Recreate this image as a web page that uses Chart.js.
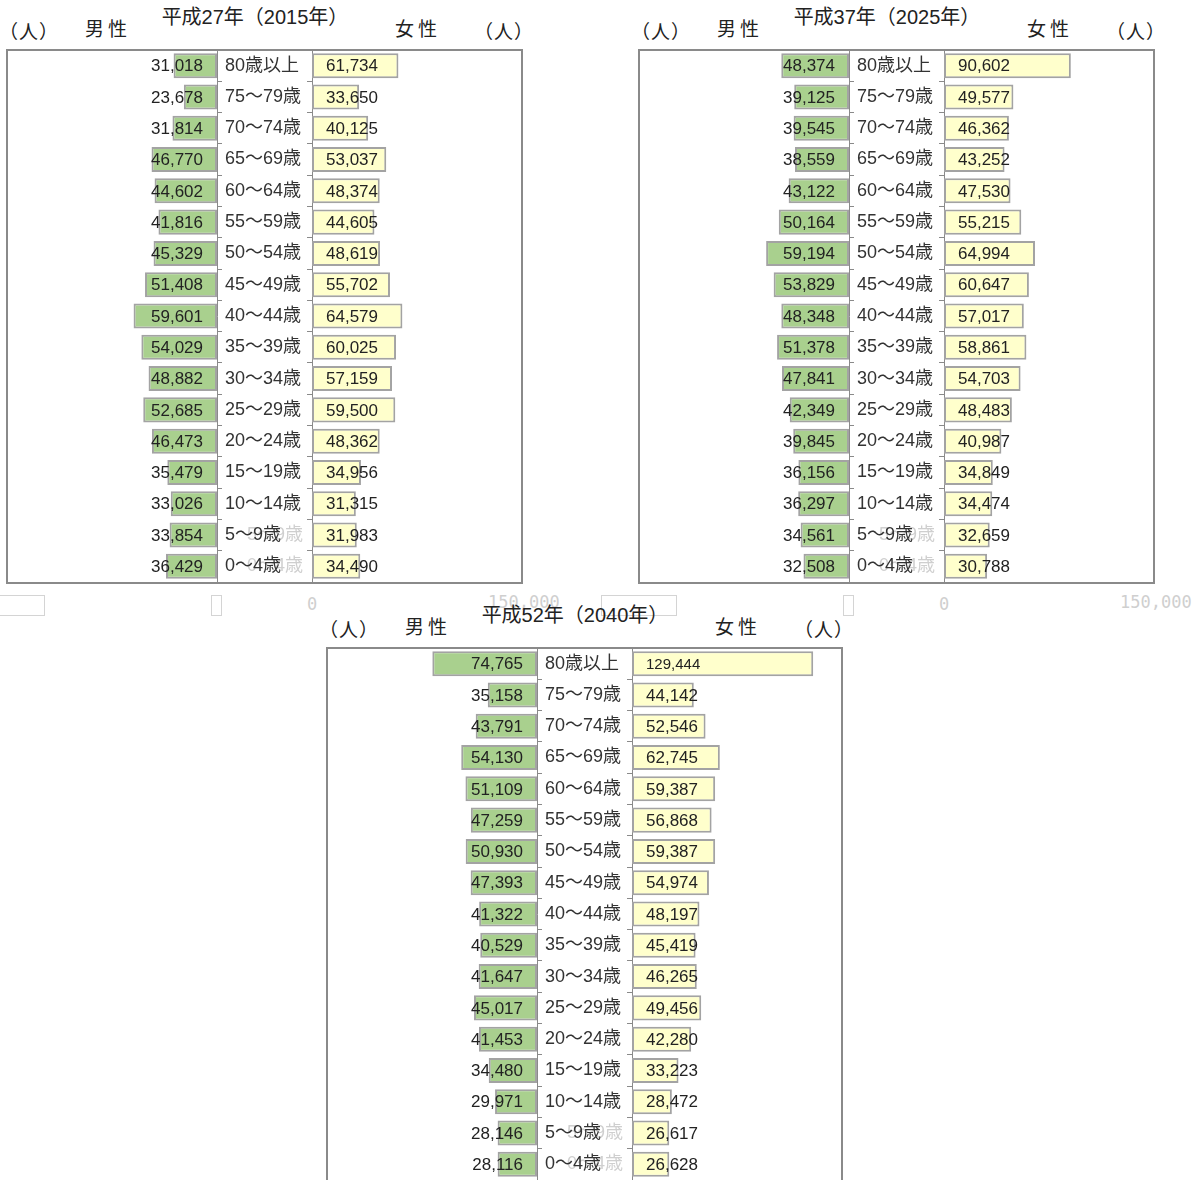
<!DOCTYPE html>
<html lang="ja">
<head>
<meta charset="utf-8">
<title>人口ピラミッド</title>
<script src="https://cdn.jsdelivr.net/npm/chart.js@4.4.1/dist/chart.umd.min.js"></script>
<style>
  html, body { margin: 0; padding: 0; background: #fff; }
  body { width: 1200px; height: 1180px; overflow: hidden; position: relative;
         font-family: "Liberation Sans", "Noto Sans CJK JP", sans-serif; color: #222; }
  .abs { position: absolute; white-space: nowrap; }
  .box { position: absolute; box-sizing: border-box; border: 2px solid #8a8a8a; background: #fff; }
  canvas { position: absolute; }
  .title { font-size: 20px; line-height: 24px; text-align: center; width: 400px; }
  .sex { font-size: 19px; line-height: 24px; letter-spacing: 4px; }
  .unit { font-size: 19px; line-height: 24px; letter-spacing: 1px; }
  .ghost { position: absolute; box-sizing: border-box; border: 1px solid #d4d4d4; }
  .ghostTxt { font-family: "DejaVu Sans Mono", monospace; font-size: 17px; color: #cfcfcf; line-height: 20px; }
</style>
</head>
<body>
<script>
// 年齢区分（上から）
const ageLabels = ['80歳以上', '75～79歳', '70～74歳', '65～69歳', '60～64歳', '55～59歳', '50～54歳',
  '45～49歳', '40～44歳', '35～39歳', '30～34歳', '25～29歳', '20～24歳', '15～19歳', '10～14歳', '5～9歳', '0～4歳'];

// 平成27年（2015年）
const male2015 = [31018, 23678, 31814, 46770, 44602, 41816, 45329, 51408, 59601, 54029, 48882, 52685, 46473, 35479, 33026, 33854, 36429];
const female2015 = [61734, 33650, 40125, 53037, 48374, 44605, 48619, 55702, 64579, 60025, 57159, 59500, 48362, 34956, 31315, 31983, 34490];

// 平成37年（2025年）
const male2025 = [48374, 39125, 39545, 38559, 43122, 50164, 59194, 53829, 48348, 51378, 47841, 42349, 39845, 36156, 36297, 34561, 32508];
const female2025 = [90602, 49577, 46362, 43252, 47530, 55215, 64994, 60647, 57017, 58861, 54703, 48483, 40987, 34849, 34474, 32659, 30788];

// 平成52年（2040年）
const male2040 = [74765, 35158, 43791, 54130, 51109, 47259, 50930, 47393, 41322, 40529, 41647, 45017, 41453, 34480, 29971, 28146, 28116];
const female2040 = [129444, 44142, 52546, 62745, 59387, 56868, 59387, 54974, 48197, 45419, 46265, 49456, 42280, 33223, 28472, 26617, 26628];

const axisMax = 150000;
const ghostTicks = ['0', '150,000'];

const GREEN = '#a9d08e';
const YELLOW = '#ffffcc';
const BAR_BORDER = '#a3a3a3';
const AXIS = '#8a8a8a';
const FONT = '"Liberation Sans", "Noto Sans CJK JP", sans-serif';

const fmt = v => v.toLocaleString('en-US');

function addDiv(cls, left, top, text, extra) {
  const d = document.createElement('div');
  d.className = cls;
  d.style.left = left + 'px';
  d.style.top = top + 'px';
  if (text != null) d.textContent = text;
  if (extra) Object.assign(d.style, extra);
  document.body.appendChild(d);
  return d;
}

// numbers on bars
function valueLabels(side) {
  return {
    id: 'valueLabels',
    afterDatasetsDraw(chart) {
      const ctx = chart.ctx;
      const data = chart.data.datasets[0].data;
      ctx.save();
      ctx.fillStyle = '#222';
      ctx.textBaseline = 'middle';
      chart.getDatasetMeta(0).data.forEach((bar, i) => {
        const v = data[i];
        ctx.font = (v >= 100000 ? '15px ' : '17px ') + FONT;
        if (side === 'male') {
          ctx.textAlign = 'right';
          ctx.fillText(fmt(v), bar.base - 14, bar.y + 1);
        } else {
          ctx.textAlign = 'left';
          ctx.fillText(fmt(v), bar.base + 14, bar.y + 1);
        }
      });
      ctx.restore();
    }
  };
}

// faint duplicated labels in the two youngest rows
const ghostLabels = {
  id: 'ghostLabels',
  beforeDraw(chart) {
    const ctx = chart.ctx;
    const y = chart.scales.y;
    ctx.save();
    ctx.fillStyle = '#cfcfcf';
    ctx.font = '18px ' + FONT;
    ctx.textAlign = 'right';
    ctx.textBaseline = 'middle';
    [15, 16].forEach(i => ctx.fillText(ageLabels[i], chart.chartArea.right + 86, y.getPixelForValue(i)));
    ctx.restore();
  }
};

function makeCanvas(left, top, w, h) {
  const c = document.createElement('canvas');
  c.width = w; c.height = h;
  c.style.left = left + 'px';
  c.style.top = top + 'px';
  document.body.appendChild(c);
  return c;
}

function barDataset(values, color) {
  return {
    data: values,
    backgroundColor: color,
    borderColor: BAR_BORDER,
    borderWidth: 2,
    borderSkipped: false,
    barPercentage: 0.8,
    categoryPercentage: 1
  };
}

function fitAxis(width) {
  return a => {
    a.width = width;
    a.paddingTop = 0;
    a.paddingBottom = 0;
  };
}

function buildPyramid(ox, oy, title, male, female, ghosts) {
  // ghost remnants under the chart
  if (ghosts) {
    addDiv('ghost', ox - 31, oy + 595, null, { width: '76px', height: '21px' });
    addDiv('ghost', ox + 211, oy + 595, null, { width: '11px', height: '21px' });
    addDiv('abs ghostTxt', ox + 307, oy + 594, ghostTicks[0]);
    addDiv('abs ghostTxt', ox + 488, oy + 592, ghostTicks[1]);
  }

  addDiv('abs title', ox + 55, oy + 5, title);
  addDiv('abs unit', ox - 1, oy + 21, '（人）');
  addDiv('abs sex', ox + 85, oy + 18, '男性');
  addDiv('abs sex', ox + 395, oy + 18, '女性');
  addDiv('abs unit', ox + 474, oy + 21, '（人）');

  addDiv('box', ox + 6, oy + 49, null, { width: '517px', height: '535px' });

  const h = 532;
  const cm = makeCanvas(ox + 7, oy + 50, 305, h);
  new Chart(cm, {
    type: 'bar',
    data: { labels: ageLabels, datasets: [barDataset(male, GREEN)] },
    options: {
      indexAxis: 'y',
      responsive: false,
      animation: false,
      layout: { padding: 0 },
      plugins: { legend: { display: false }, tooltip: { enabled: false } },
      scales: {
        x: { display: false, reverse: true, min: 0, max: axisMax },
        y: {
          position: 'right',
          afterFit: fitAxis(95),
          grid: { drawOnChartArea: false, drawTicks: true, tickLength: 5, color: AXIS },
          border: { display: true, color: AXIS },
          ticks: { autoSkip: false, padding: 3, color: '#333', font: { size: 18, family: FONT } }
        }
      }
    },
    plugins: [ghostLabels, valueLabels('male')]
  });

  const cf = makeCanvas(ox + 302, oy + 50, 220, h);
  new Chart(cf, {
    type: 'bar',
    data: { labels: ageLabels, datasets: [barDataset(female, YELLOW)] },
    options: {
      indexAxis: 'y',
      responsive: false,
      animation: false,
      layout: { padding: 0 },
      plugins: { legend: { display: false }, tooltip: { enabled: false } },
      scales: {
        x: { display: false, min: 0, max: axisMax },
        y: {
          position: 'left',
          afterFit: fitAxis(10),
          grid: { drawOnChartArea: false, drawTicks: true, tickLength: 5, color: AXIS },
          border: { display: true, color: AXIS },
          ticks: { display: false, autoSkip: false }
        }
      }
    },
    plugins: [valueLabels('female')]
  });
}

buildPyramid(0, 0, '平成27年（2015年）', male2015, female2015, true);
buildPyramid(632, 0, '平成37年（2025年）', male2025, female2025, true);
buildPyramid(320, 598, '平成52年（2040年）', male2040, female2040, false);
</script>
</body>
</html>
